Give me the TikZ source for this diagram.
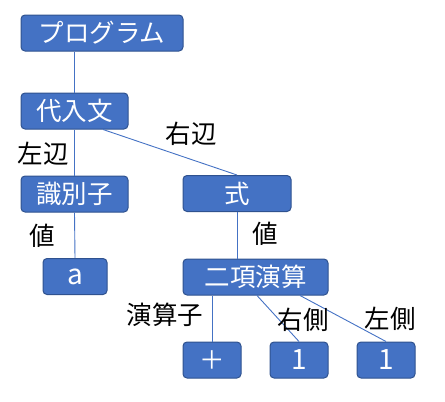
\documentclass[tikz,border=0pt]{standalone}
\usepackage{fontspec}
\setmainfont{Noto Sans CJK JP}
\usetikzlibrary{calc}
\definecolor{boxfill}{HTML}{4472C4}
\definecolor{boxline}{HTML}{2F528F}
\definecolor{edgecol}{HTML}{4472C4}
\tikzset{
  x=1pt,y=-1pt,
  tbox/.style={draw=boxline, fill=boxfill, line width=1pt, rounded corners=4pt,
    text=white, inner sep=0pt, minimum height=36pt, font=\fontsize{25.5}{27}\selectfont},
  bigtxt/.style={font=\fontsize{28}{30}\selectfont},
  edge/.style={draw=edgecol, line width=0.9pt},
  lbl/.style={inner sep=0pt, text=black, font=\fontsize{25.5}{27}\selectfont}
}
\begin{document}
\begin{tikzpicture}
\useasboundingbox (0,0) rectangle (445,402);
\node[tbox, minimum width=162pt] (prog) at (102,33) {プログラム};
\node[tbox, minimum width=107pt] (dainyu) at (74.5,111) {代入文};
\node[tbox, minimum width=107pt] (ident) at (74.5,194) {識別子};
\node[tbox, minimum width=108pt] (shiki) at (237,193.5) {式};
\node[tbox, bigtxt, minimum width=64pt] (a) at (75,276.5) {a};
\node[tbox, minimum width=145pt] (niko) at (255.5,277) {二項演算};
\node[tbox, minimum width=58pt] (plus) at (212,360) {＋};
\node[tbox, bigtxt, minimum width=58pt] (one1) at (299,360) {1};
\node[tbox, bigtxt, minimum width=58pt] (one2) at (386,360) {1};

\draw[edge] (prog.south -| dainyu.north) -- (dainyu.north);
\draw[edge] (dainyu.south) -- (ident.north);
\draw[edge] ($(dainyu.south)+(28.5,0)$) -- (shiki.north);
\draw[edge] (ident.south) -- (a.north);
\draw[edge] (shiki.south) -- (shiki.south |- niko.north);
\draw[edge] (niko.south -| plus.north) -- (plus.north);
\draw[edge] ($(niko.south)+(1.5,0)$) -- (one1.north);
\draw[edge] ($(niko.south)+(44.5,0)$) -- (one2.north);

\node[lbl] (l1) at (43,154) {左辺};
\node[lbl] (l2) at (191,134) {右辺};
\node[lbl] (l3) at (42.5,235.5) {値};
\node[lbl] (l4) at (265,234) {値};
\node[lbl] (l5) at (165,315) {演算子};
\node[lbl] (l6) at (303,320) {右側};
\node[lbl] (l7) at (390,319) {左側};
\end{tikzpicture}
\end{document}
